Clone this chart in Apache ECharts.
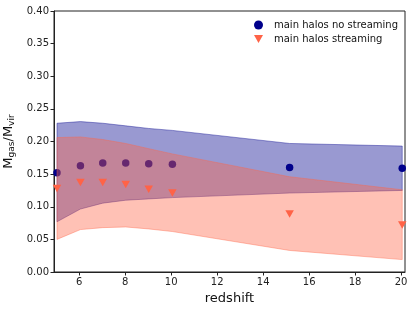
<!DOCTYPE html>
<html><head><meta charset="utf-8">
<script src="https://cdn.jsdelivr.net/npm/echarts@6/dist/echarts.min.js"></script>
<style>html,body{margin:0;padding:0;background:#fff}#c{width:416px;height:312px}</style>
</head><body><div id="c"></div>
<script>
const redshift = [5.03, 6.05, 7.02, 8.02, 9.02, 10.05, 15.15, 20.05];
const noStream = [0.152, 0.163, 0.167, 0.167, 0.166, 0.165, 0.160, 0.159];
const stream = [0.128, 0.137, 0.137, 0.134, 0.127, 0.121, 0.089, 0.072];
const noStreamUpper = [0.228, 0.2305, 0.228, 0.224, 0.220, 0.217, 0.197, 0.193];
const noStreamLower = [0.077, 0.0965, 0.1055, 0.110, 0.112, 0.114, 0.121, 0.125];
const streamUpper = [0.206, 0.207, 0.203, 0.197, 0.189, 0.181, 0.146, 0.126];
const streamLower = [0.050, 0.065, 0.068, 0.069, 0.066, 0.062, 0.033, 0.019];
const xTicks = [6, 8, 10, 12, 14, 16, 18, 20];
const yTicks = [0, 0.05, 0.10, 0.15, 0.20, 0.25, 0.30, 0.35, 0.40];

const FONT = 'DejaVu Sans';
function bandData(lo, hi) { return redshift.map((x, i) => [x, lo[i], hi[i]]); }
function bandSeries(lo, hi, fill, stroke, z) {
  return {
    type: 'custom', z: z, silent: true,
    data: bandData(lo, hi),
    encode: { x: 0, y: [1, 2] },
    renderItem: function (params, api) {
      if (params.dataIndex !== 0) return null;
      const n = redshift.length;
      const pts = [];
      for (let i = 0; i < n; i++) pts.push(api.coord([redshift[i], hi[i]]));
      for (let i = n - 1; i >= 0; i--) pts.push(api.coord([redshift[i], lo[i]]));
      return { type: 'polygon', shape: { points: pts }, style: { fill: fill, stroke: stroke, lineWidth: 1 } };
    }
  };
}
const chart = echarts.init(document.getElementById('c'), null, { renderer: 'canvas' });
chart.setOption({
  animation: false,
  textStyle: { fontFamily: FONT },
  grid: { left: 54, right: 11, top: 11, bottom: 40, show: true, borderColor: '#222', borderWidth: 1, backgroundColor: 'transparent', outerBoundsMode: 'none', containLabel: false },
  legend: {
    orient: 'vertical', left: 249, top: 15, itemWidth: 9, itemHeight: 9, itemGap: 4,
    textStyle: { fontFamily: FONT, fontSize: 10, color: '#111', padding: [0, 0, 0, 6] },
    data: [
      { name: 'main halos no streaming', icon: 'circle' },
      { name: 'main halos streaming', icon: 'path://M0,0 L10,0 L5,9 Z' }
    ]
  },
  xAxis: {
    type: 'value', min: 4.9, max: 20.17,
    name: 'redshift', nameLocation: 'middle', nameGap: 20,
    nameTextStyle: { fontFamily: FONT, fontSize: 13, color: '#111' },
    axisLine: { show: true, lineStyle: { color: '#222' } },
    axisTick: { show: true, length: 3.5, customValues: xTicks, lineStyle: { color: '#222' } },
    axisLabel: { customValues: xTicks, fontFamily: FONT, fontSize: 10, color: '#222', margin: 5 },
    splitLine: { show: false }
  },
  yAxis: {
    type: 'value', min: 0, max: 0.4, interval: 0.05,
    name: '{m|M}{s|gas}{m|/M}{s|vir}', nameLocation: 'middle', nameGap: 35, nameRotate: 90,
    nameTextStyle: {
      fontFamily: FONT, fontSize: 13, color: '#111',
      rich: {
        m: { fontFamily: FONT, fontSize: 13, color: '#111' },
        s: { fontFamily: FONT, fontSize: 9, color: '#111', padding: [6, 0, 0, 0] }
      }
    },
    axisLine: { show: true, lineStyle: { color: '#222' } },
    axisTick: { show: true, length: 3.5, lineStyle: { color: '#222' } },
    axisLabel: { fontFamily: FONT, fontSize: 10, color: '#222', margin: 5, formatter: v => v.toFixed(2) },
    splitLine: { show: false }
  },
  series: [
    bandSeries(noStreamLower, noStreamUpper, 'rgba(0,0,139,0.4)', 'rgba(0,0,139,0.4)', 1),
    {
      name: 'main halos no streaming', type: 'scatter', z: 2, symbol: 'circle', symbolSize: 7.5,
      itemStyle: { color: '#00008b', opacity: 1 },
      data: redshift.map((x, i) => [x, noStream[i]])
    },
    bandSeries(streamLower, streamUpper, 'rgba(255,99,71,0.4)', 'rgba(255,99,71,0.4)', 3),
    {
      name: 'main halos streaming', type: 'scatter', z: 4, symbol: 'triangle', symbolRotate: 180, symbolSize: [8.5, 7.5],
      itemStyle: { color: '#ff6347', opacity: 1 },
      data: redshift.map((x, i) => [x, stream[i]])
    }
  ]
});
</script></body></html>
